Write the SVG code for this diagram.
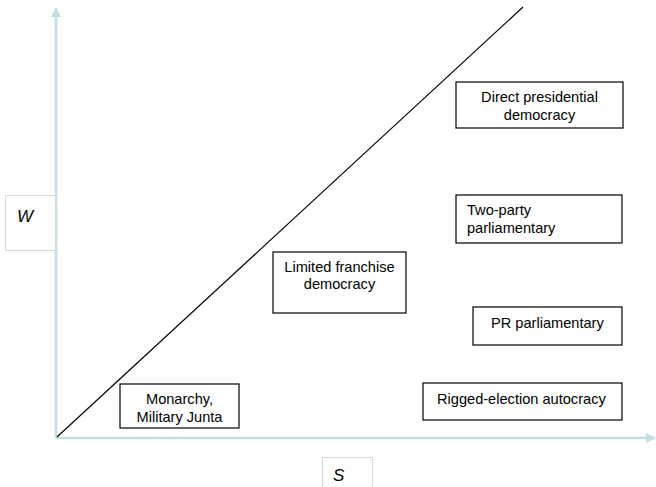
<svg xmlns="http://www.w3.org/2000/svg" width="656" height="487" viewBox="0 0 656 487">
<style>
.box{fill:#fff;stroke:#000;stroke-width:1.2}
.lbl{fill:#fff;stroke:#d9d9d9;stroke-width:1}
.t{font-family:"Liberation Sans",Arial,sans-serif;font-size:14.6px;fill:#000}
.c{text-anchor:middle}
.i{font-family:"Liberation Sans",Arial,sans-serif;font-size:17px;font-style:italic;fill:#000}
.axis{stroke:#c3dfe2;stroke-width:2.5;fill:none}
</style>
<defs>
<marker id="ah" viewBox="0 0 10 10" refX="9" refY="5" markerWidth="4" markerHeight="4" orient="auto" markerUnits="strokeWidth">
<path d="M0,0 L10,5 L0,10 z" fill="#c3dfe2"/>
</marker>
</defs>
<g id="connectors">
<line class="axis" x1="56" y1="438" x2="56" y2="8" marker-end="url(#ah)"/>
<line class="axis" x1="56" y1="438" x2="655" y2="438" marker-end="url(#ah)"/>
<line x1="57" y1="437" x2="523" y2="7" stroke="#000" stroke-width="1.2"/>
</g>
<g id="label-W">
<rect class="lbl" x="5.5" y="195.5" width="50" height="55"/>
<text class="i" x="17" y="222">W</text>
</g>
<g id="label-S">
<rect class="lbl" x="322.5" y="457.5" width="50" height="35"/>
<text class="i" x="333" y="481">S</text>
</g>
<g id="n-monarchy">
<rect class="box" x="120" y="384" width="119" height="44"/>
<text class="t c" x="179.5" y="404">Monarchy,</text>
<text class="t c" x="179.5" y="422">Military Junta</text>
</g>
<g id="n-limited">
<rect class="box" x="273" y="252" width="133" height="61"/>
<text class="t c" x="339.5" y="272">Limited franchise</text>
<text class="t c" x="339.5" y="289">democracy</text>
</g>
<g id="n-direct">
<rect class="box" x="456" y="82" width="167" height="46"/>
<text class="t c" x="539.5" y="102">Direct presidential</text>
<text class="t c" x="539.5" y="120">democracy</text>
</g>
<g id="n-twoparty">
<rect class="box" x="456" y="195" width="166" height="48"/>
<text class="t" x="467" y="215">Two-party</text>
<text class="t" x="467" y="233">parliamentary</text>
</g>
<g id="n-pr">
<rect class="box" x="473" y="307" width="149" height="38"/>
<text class="t" x="491" y="328">PR parliamentary</text>
</g>
<g id="n-rigged">
<rect class="box" x="423" y="383" width="199" height="37"/>
<text class="t" x="437" y="404">Rigged-election autocracy</text>
</g>
</svg>
